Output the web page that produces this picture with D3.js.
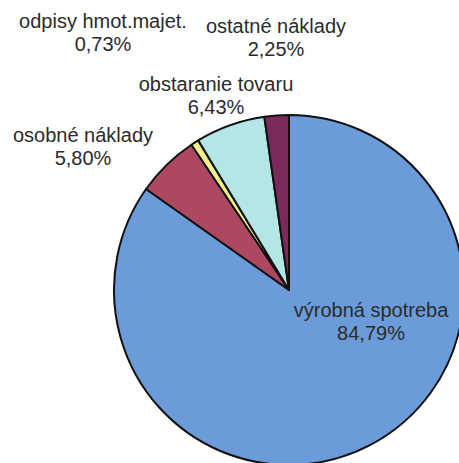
<!DOCTYPE html>
<html>
<head>
<meta charset="utf-8">
<script src="https://cdn.jsdelivr.net/npm/d3@7"></script>
<style>
  html, body { margin: 0; padding: 0; background: #fff; }
  svg { display: block; }
  text { font-family: "Liberation Sans", Arial, sans-serif; font-size: 20px; fill: #2b2b2b; }
</style>
</head>
<body>
<svg id="chart" width="459" height="463"></svg>
<script>
const categories = ['výrobná spotreba', 'osobné náklady', 'odpisy hmot.majet.', 'obstaranie tovaru', 'ostatné náklady']
const values = [84.79, 5.80, 0.73, 6.43, 2.25]
const valueLabels = ['84,79%', '5,80%', '0,73%', '6,43%', '2,25%']

const colors = ['#6b9bd8', '#ad4862', '#f4ef8e', '#b3e6e4', '#7a2b5c']
// label anchor (centre x, first baseline y) for each slice
const labelAt = [[371, 317], [83, 142], [103, 28], [216, 91], [276, 33]]

const cx = 289, cy = 290, radius = 175

const svg = d3.select('#chart')
const g = svg.append('g').attr('transform', `translate(${cx},${cy})`)

const pie = d3.pie().sort(null).value(d => d.value)
const arc = d3.arc().innerRadius(0).outerRadius(radius)

const data = categories.map((c, i) => ({ name: c, value: values[i], label: valueLabels[i] }))

g.selectAll('path')
  .data(pie(data))
  .enter()
  .append('path')
  .attr('d', arc)
  .attr('fill', (d, i) => colors[i])
  .attr('stroke', '#111')
  .attr('stroke-width', 2)
  .attr('stroke-linejoin', 'round')

const labels = svg.append('g')
  .selectAll('text')
  .data(data)
  .enter()
  .append('text')
  .attr('text-anchor', 'middle')
  .attr('x', (d, i) => labelAt[i][0])
  .attr('y', (d, i) => labelAt[i][1])

labels.append('tspan').text(d => d.name)
labels.append('tspan')
  .attr('x', (d, i) => labelAt[i][0])
  .attr('dy', 23)
  .text(d => d.label)
</script>
</body>
</html>
